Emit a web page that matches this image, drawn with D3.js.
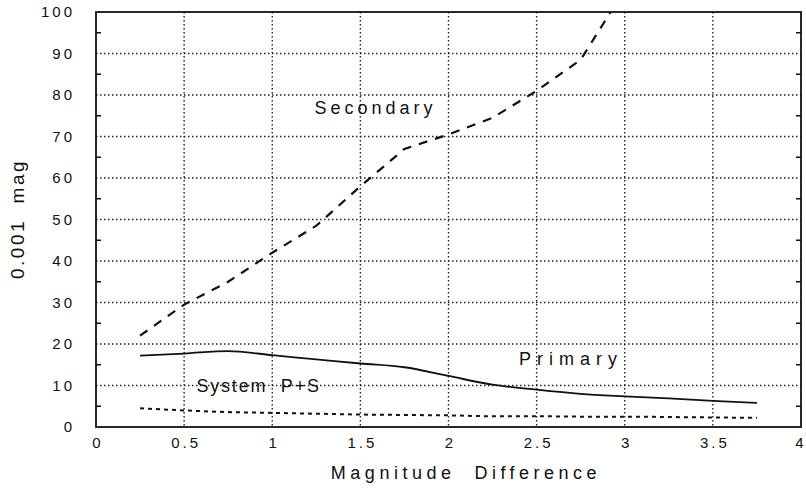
<!DOCTYPE html>
<html>
<head>
<meta charset="utf-8">
<script src="https://cdn.jsdelivr.net/npm/d3@7"></script>
<style>
	body { margin: 0; background: #fff; }
	text { font-family: "Liberation Sans", Arial, sans-serif; fill: #111; }
</style>
</head>
<body>
<div id="vis"></div>
<script>
// DATA
let magDiff = [0.25, 0.5, 0.75, 1.0, 1.25, 1.5, 1.75, 2.0, 2.25, 2.5, 2.75, 3.0, 3.25, 3.5, 3.75];
let primary = [17.2, 17.7, 18.3, 17.3, 16.3, 15.3, 14.4, 12.3, 10.2, 9.0, 8.0, 7.4, 6.9, 6.3, 5.8];
let system = [4.5, 4.0, 3.6, 3.4, 3.2, 3.0, 2.9, 2.8, 2.6, 2.6, 2.5, 2.5, 2.4, 2.3, 2.2];
let secondaryX = [0.25, 0.5, 0.75, 1.0, 1.25, 1.5, 1.75, 2.0, 2.25, 2.5, 2.75, 2.92];
let secondary = [22, 29.5, 35, 42, 48.5, 58, 67, 70.5, 74.5, 81, 88.5, 100];
let xTicks = [0, 0.5, 1, 1.5, 2, 2.5, 3, 3.5, 4];
let yTicks = [0, 10, 20, 30, 40, 50, 60, 70, 80, 90, 100];
let yMinor = [5, 15, 25, 35, 45, 55, 65, 75, 85, 95];

// PARAMETERS
let width = 806,
	height = 490,
	plot = { left: 96, right: 801, top: 12, bottom: 427 };

// SCALES
let x = d3.scaleLinear().domain([0, 4]).range([plot.left, plot.right]),
	y = d3.scaleLinear().domain([0, 100]).range([plot.bottom, plot.top]);

let svg = d3.select('#vis')
	.append('svg')
	.attr('width', width)
	.attr('height', height);

// GRID
svg.append('g')
	.selectAll('line')
	.data(xTicks.slice(1, -1))
	.enter()
	.append('line')
	.attr('x1', d => x(d)).attr('x2', d => x(d))
	.attr('y1', plot.top).attr('y2', plot.bottom)
	.attr('stroke', '#222')
	.attr('stroke-width', 1.4)
	.attr('stroke-dasharray', '1.5,2.5');

svg.append('g')
	.selectAll('line')
	.data(yTicks.slice(1, -1))
	.enter()
	.append('line')
	.attr('x1', plot.left).attr('x2', plot.right)
	.attr('y1', d => y(d)).attr('y2', d => y(d))
	.attr('stroke', '#222')
	.attr('stroke-width', 1.4)
	.attr('stroke-dasharray', '1.5,2.5');

// MINOR TICKS (left + right, inward)
let minor = svg.append('g');
minor.selectAll('.tl')
	.data(yMinor)
	.enter()
	.append('line')
	.attr('x1', plot.left).attr('x2', plot.left + 5)
	.attr('y1', d => y(d)).attr('y2', d => y(d))
	.attr('stroke', '#111').attr('stroke-width', 1.5);
minor.selectAll('.tr')
	.data(yMinor)
	.enter()
	.append('line')
	.attr('x1', plot.right).attr('x2', plot.right - 5)
	.attr('y1', d => y(d)).attr('y2', d => y(d))
	.attr('stroke', '#111').attr('stroke-width', 1.5);

// FRAME
svg.append('rect')
	.attr('x', plot.left)
	.attr('y', plot.top)
	.attr('width', plot.right - plot.left)
	.attr('height', plot.bottom - plot.top)
	.attr('fill', 'none')
	.attr('stroke', '#111')
	.attr('stroke-width', 1.8);

// AXES (labels only)
let xAxis = d3.axisBottom(x).tickValues(xTicks).tickSize(0).tickPadding(10).tickFormat(d3.format('')),
	yAxis = d3.axisLeft(y).tickValues(yTicks).tickSize(0).tickPadding(24);

let gx = svg.append('g')
	.attr('transform', `translate(0, ${plot.bottom})`)
	.call(xAxis);
let gy = svg.append('g')
	.attr('transform', `translate(${plot.left}, 0)`)
	.call(yAxis);

[gx, gy].forEach(g => {
	g.select('.domain').remove();
	g.selectAll('text')
		.attr('font-size', 15)
		.attr('font-family', '"Liberation Sans", Arial, sans-serif')
		.attr('fill', '#111')
		.style('letter-spacing', '3px');
});
gx.selectAll('text').attr('dx', '1.5px');
gx.selectAll('text').filter(d => d === 4)
	.attr('text-anchor', 'end')
	.attr('dx', '2px')
	.style('letter-spacing', '0px');
gy.selectAll('text').attr('dx', '3px');

// LINES
let lineOf = (xs, ys, curve) => d3.line()
	.x((d, i) => x(xs[i]))
	.y(d => y(d))
	.curve(curve)(ys);

svg.append('path')
	.attr('d', lineOf(secondaryX, secondary, d3.curveLinear))
	.attr('fill', 'none')
	.attr('stroke', '#111')
	.attr('stroke-width', 2.2)
	.attr('stroke-dasharray', '9,8');

svg.append('path')
	.attr('d', lineOf(magDiff, primary, d3.curveMonotoneX))
	.attr('fill', 'none')
	.attr('stroke', '#111')
	.attr('stroke-width', 1.8);

svg.append('path')
	.attr('d', lineOf(magDiff, system, d3.curveMonotoneX))
	.attr('fill', 'none')
	.attr('stroke', '#111')
	.attr('stroke-width', 2)
	.attr('stroke-dasharray', '4,4');

// SERIES LABELS
let labels = [
	{ text: 'Secondary', x: 1.24, y: 75.5, spacing: 4 },
	{ text: 'Primary', x: 2.4, y: 15, spacing: 6 },
	{ text: 'System  P+S', x: 0.57, y: 8.5, spacing: 1.8 }
];
svg.append('g')
	.selectAll('text')
	.data(labels)
	.enter()
	.append('text')
	.attr('x', d => x(d.x))
	.attr('y', d => y(d.y))
	.attr('font-size', 18)
	.style('letter-spacing', d => d.spacing + 'px')
	.style('white-space', 'pre')
	.text(d => d.text);

// AXIS TITLES
svg.append('text')
	.attr('x', 466)
	.attr('y', 479)
	.attr('text-anchor', 'middle')
	.attr('font-size', 18)
	.style('letter-spacing', '4.5px')
	.style('white-space', 'pre')
	.text('Magnitude  Difference');

svg.append('text')
	.attr('transform', 'translate(24, 219) rotate(-90)')
	.attr('text-anchor', 'middle')
	.attr('font-size', 19)
	.style('letter-spacing', '2.5px')
	.style('white-space', 'pre')
	.text('0.001  mag');
</script>
</body>
</html>
